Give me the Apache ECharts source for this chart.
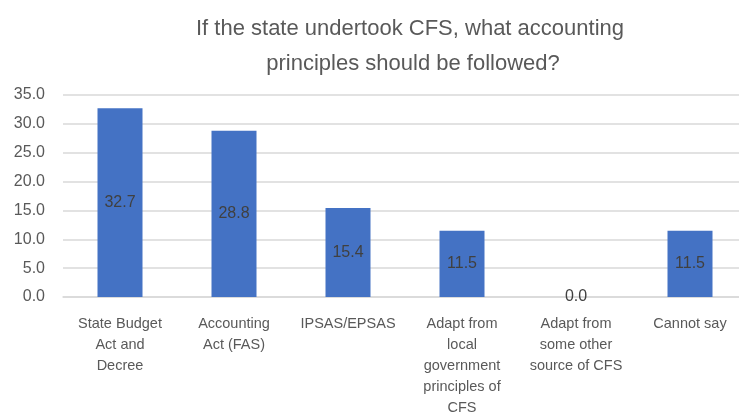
<!DOCTYPE html>
<html>
<head>
<meta charset="utf-8">
<script src="https://cdn.jsdelivr.net/npm/echarts@6/dist/echarts.min.js"></script>
<style>
  html, body { margin: 0; padding: 0; background: #fff; }
  #chart { width: 739px; height: 413px; }
</style>
</head>
<body>
<div id="chart"></div>
<script>
  // categories (line breaks as in the original axis)
  const categories = [
    'State Budget\nAct and\nDecree',
    'Accounting\nAct (FAS)',
    'IPSAS/EPSAS',
    'Adapt from\nlocal\ngovernment\nprinciples of\nCFS',
    'Adapt from\nsome other\nsource of CFS',
    'Cannot say'
  ];
  const values = [32.7, 28.8, 15.4, 11.5, 0.0, 11.5];
  const titleText = 'If the state undertook CFS, what accounting\n principles should be followed?';

  const chart = echarts.init(document.getElementById('chart'));
  const font = 'Liberation Sans';

  chart.setOption({
    animation: false,
    title: {
      text: titleText,
      left: 405,
      top: 6,
      textAlign: 'center',
      textStyle: {
        color: '#595959',
        fontFamily: font,
        fontSize: 22,
        fontWeight: 'normal',
        lineHeight: 35
      }
    },
    grid: {
      left: 63,
      right: -8,
      top: 95,
      bottom: 116,
      outerBoundsMode: 'none',
      containLabel: false
    },
    xAxis: {
      type: 'category',
      data: categories,
      axisLine: { lineStyle: { color: '#d9d9d9', width: 1.5 } },
      axisTick: { show: false },
      axisLabel: {
        interval: 0,
        color: '#595959',
        fontFamily: font,
        fontSize: 14.5,
        lineHeight: 21,
        margin: 16
      }
    },
    yAxis: {
      type: 'value',
      min: 0,
      max: 35,
      interval: 5,
      axisLine: { show: false },
      axisTick: { show: false },
      splitLine: { lineStyle: { color: '#d9d9d9', width: 1.5 } },
      axisLabel: {
        color: '#595959',
        fontFamily: font,
        fontSize: 16,
        margin: 18,
        formatter: v => v.toFixed(1)
      }
    },
    series: [{
      type: 'bar',
      data: values,
      barWidth: 45,
      itemStyle: { color: '#4472C4' },
      label: {
        show: true,
        position: 'inside',
        color: '#404040',
        fontFamily: font,
        fontSize: 16,
        formatter: p => p.value.toFixed(1)
      }
    }]
  });
</script>
</body>
</html>
